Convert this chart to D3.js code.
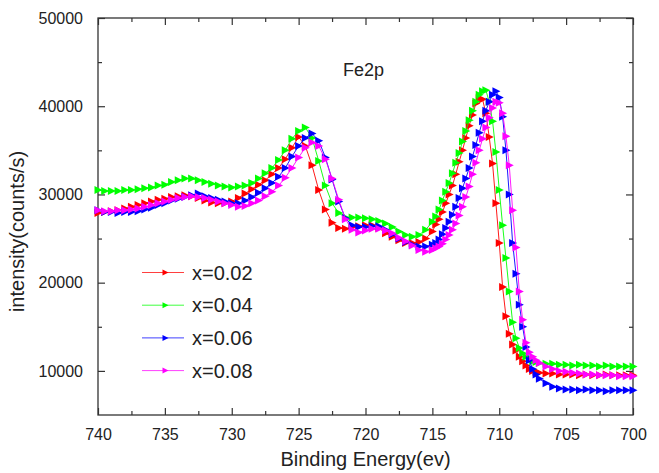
<!DOCTYPE html>
<html>
<head>
<meta charset="utf-8">
<script src="https://cdn.jsdelivr.net/npm/d3@7"></script>
<style>
  body { margin: 0; background: #fff; }
  text { font-family: "Liberation Sans", Arial, sans-serif; fill: #222; }
</style>
</head>
<body>
<svg id="chart" width="659" height="473"></svg>
<script>
// binding energy grid (eV): coarse on the flat parts, finer around the steep Fe2p3/2 edge
const energy = [].concat(
  d3.range(740, 714.99, -0.5),
  d3.range(714.75, 706.99, -0.25),
  d3.range(706.5, 699.99, -0.5)
);

const labels = ['x=0.02', 'x=0.04', 'x=0.06', 'x=0.08'];
const colors = ['#ff0000', '#00ff00', '#0000ff', '#ff00ff'];

const x002 = [
  27900, 28000, 28100, 28200, 28400, 28600, 28800, 29000, 29200, 29400, 29500, 29700, 29800, 29900, 29800, 29600, 29300,
  29100, 29000, 29000, 29200, 29600, 30100, 30600, 31100, 31600, 32300, 33000, 34000, 35300, 36500, 35500, 33300, 30500,
  28300, 26800, 26200, 26100, 26300, 26400, 26500, 26500, 26200, 25600, 25200, 24800, 24500, 24500, 24600, 25000, 25800,
  26600, 27200, 28000, 29000, 30000, 31000, 32300, 33700, 35000, 36400, 37800, 39000, 40300, 40900, 40800, 39200,
  36500, 33500, 29000, 24500, 19500, 16200, 14200, 13000, 12300, 11600, 11100, 10600, 10200, 10000, 9900, 9800,
  9700, 9700, 9600, 9600, 9600, 9500, 9600, 9500, 9500, 9600, 9500, 9500, 9500, 9500
];
const x004 = [
  30500, 30400, 30400, 30400, 30500, 30500, 30600, 30700, 30800, 31000, 31100, 31400, 31600, 31800, 31800, 31600, 31400,
  31200, 31000, 30900, 30800, 30900, 31000, 31300, 31800, 32400, 33000, 33900, 35000, 36300, 37200, 37600, 36400, 33800,
  31000, 29000, 27900, 27400, 27400, 27400, 27300, 27200, 27000, 26700, 26300, 25800, 25400, 25200, 25400, 26000, 26900,
  27500, 28300, 29300, 30300, 31300, 32400, 33600, 34700, 36000, 37200, 38400, 39500, 40500, 41300, 41700, 41800,
  40500, 38300, 34800, 30500, 26500, 22800, 19000, 15500, 13700, 12600, 12000, 11600, 11300, 11100, 11000, 10900,
  10800, 10800, 10700, 10700, 10600, 10700, 10600, 10600, 10500, 10600, 10500, 10500, 10500, 10500
];
const x006 = [
  28200, 28000, 28000, 27900, 28000, 28000, 28100, 28300, 28500, 28800, 29000, 29300, 29500, 29700, 29900, 30100, 29800,
  29600, 29400, 29200, 29000, 29000, 29300, 29700, 30200, 30700, 31300, 32000, 33000, 34300, 35500, 36400, 36900, 36100,
  34200, 31700, 29200, 27300, 26500, 26300, 26300, 26400, 26400, 26000, 25500, 25000, 24600, 24300, 24100, 24100, 24300,
  24500, 24900, 25500, 26200, 26900, 27700, 28600, 29600, 30700, 31800, 33000, 34300, 35600, 37000, 38300, 39500,
  40500, 41300, 41700, 41000, 38800, 35000, 30000, 24500, 21000, 17500, 15000, 12700, 11200, 10200, 9600, 9100,
  8600, 8200, 8000, 7900, 7900, 7800, 7900, 7800, 7800, 7700, 7800, 7800, 7800, 7800
];
const x008 = [
  28200, 28100, 28100, 28200, 28200, 28300, 28400, 28600, 28800, 29000, 29200, 29400, 29600, 29700, 29800, 29700, 29600,
  29400, 29200, 29000, 28800, 28600, 28700, 29000, 29300, 29800, 30300, 31000, 31900, 33000, 34200, 35300, 35900, 35500,
  34000, 31800, 29400, 27200, 26000, 25700, 25900, 26100, 26100, 25900, 25600, 25100, 24700, 24200, 23700, 23500, 23700,
  23900, 24100, 24400, 24900, 25400, 26000, 26700, 27600, 28600, 29700, 30900, 32300, 33600, 35000, 36300, 37600,
  38700, 39800, 40500, 40400, 39200, 36600, 33300, 28200, 24000, 19000, 15800, 13200, 12100, 11600, 11200, 10900,
  10500, 10200, 10000, 9900, 9800, 9700, 9600, 9600, 9500, 9500, 9500, 9400, 9400, 9400
];
const series = [x002, x004, x006, x008];

const xTicks = [740, 735, 730, 725, 720, 715, 710, 705, 700];
const xMinor = [737.5, 732.5, 727.5, 722.5, 717.5, 712.5, 707.5, 702.5];
const yTicks = [10000, 20000, 30000, 40000, 50000];
const yMinor = [15000, 25000, 35000, 45000];

var margin = { top: 18, right: 26, bottom: 58, left: 98 };
var w = 659 - margin.left - margin.right;
var h = 473 - margin.top - margin.bottom;

var svg = d3.select('#chart');
var g = svg.append('g').attr('transform', `translate(${margin.left}, ${margin.top})`);

const x_scale = d3.scaleLinear().domain([740, 700]).range([0, w]);
const y_scale = d3.scaleLinear().domain([5000, 50000]).range([h, 0]);

// axes with inward ticks on all four sides
function styleAxis(sel) {
  sel.select('.domain').remove();
  sel.selectAll('line').attr('stroke', '#333').attr('stroke-width', 1.2);
  sel.selectAll('text').style('font-size', '16px').attr('fill', '#222');
}
g.append('g').attr('transform', `translate(0, ${h})`)
  .call(d3.axisBottom(x_scale).tickValues(xTicks).tickSize(-7).tickPadding(14).tickFormat(d3.format('d')))
  .call(styleAxis);
g.append('g').attr('transform', `translate(0, ${h})`)
  .call(d3.axisBottom(x_scale).tickValues(xMinor).tickSize(-4).tickFormat(''))
  .call(styleAxis);
g.append('g')
  .call(d3.axisTop(x_scale).tickValues(xTicks).tickSize(-7).tickFormat(''))
  .call(styleAxis);
g.append('g')
  .call(d3.axisTop(x_scale).tickValues(xMinor).tickSize(-4).tickFormat(''))
  .call(styleAxis);
g.append('g')
  .call(d3.axisLeft(y_scale).tickValues(yTicks).tickSize(-7).tickPadding(15).tickFormat(d3.format('d')))
  .call(styleAxis);
g.append('g')
  .call(d3.axisLeft(y_scale).tickValues(yMinor).tickSize(-4).tickFormat(''))
  .call(styleAxis);
g.append('g').attr('transform', `translate(${w}, 0)`)
  .call(d3.axisRight(y_scale).tickValues(yTicks).tickSize(-7).tickFormat(''))
  .call(styleAxis);
g.append('g').attr('transform', `translate(${w}, 0)`)
  .call(d3.axisRight(y_scale).tickValues(yMinor).tickSize(-4).tickFormat(''))
  .call(styleAxis);

g.append('rect').attr('width', w).attr('height', h)
  .attr('fill', 'none').attr('stroke', '#333').attr('stroke-width', 1.3);

// curves: thin line plus right-pointing triangle markers
const tri = 'M-3.5,-4L4.5,0L-3.5,4Z';
const line = d3.line().x((d, i) => x_scale(energy[i])).y(d => y_scale(d));

series.forEach((vals, k) => {
  var sg = g.append('g').attr('class', 'series-' + k);
  sg.append('path').datum(vals)
    .attr('d', line)
    .attr('fill', 'none')
    .attr('stroke', colors[k])
    .attr('stroke-width', 0.9);
  sg.selectAll('.m').data(vals).join('path').attr('class', 'm')
    .attr('d', tri)
    .attr('transform', (d, i) => `translate(${x_scale(energy[i])}, ${y_scale(d)})`)
    .attr('fill', colors[k]);
});

// legend
var lg = g.append('g').attr('transform', `translate(${142 - margin.left}, ${272.5 - margin.top})`);
labels.forEach((lab, k) => {
  var row = lg.append('g').attr('transform', `translate(0, ${k * 32.7})`);
  row.append('line').attr('x1', 0).attr('x2', 42).attr('y1', 0).attr('y2', 0)
    .attr('stroke', colors[k]).attr('stroke-width', 1).attr('opacity', 0.75);
  row.append('path').attr('d', 'M-2.5,-3L3.5,0L-2.5,3Z')
    .attr('transform', 'translate(23, 0)').attr('fill', colors[k]);
  row.append('text').attr('x', 50).attr('y', 0).attr('dy', '0.35em')
    .style('font-size', '20px').text(lab);
});

g.append('text').attr('x', 343 - margin.left).attr('y', 76 - margin.top)
  .style('font-size', '18px').text('Fe2p');

g.append('text').attr('x', w / 2).attr('y', h + 51)
  .style('text-anchor', 'middle').style('font-size', '20px')
  .text('Binding Energy(ev)');

g.append('text').attr('x', -(h / 2) - 15).attr('y', 24 - margin.left)
  .attr('transform', 'rotate(-90)')
  .style('text-anchor', 'middle').style('font-size', '20px')
  .text('intensity(counts/s)');
</script>
</body>
</html>
